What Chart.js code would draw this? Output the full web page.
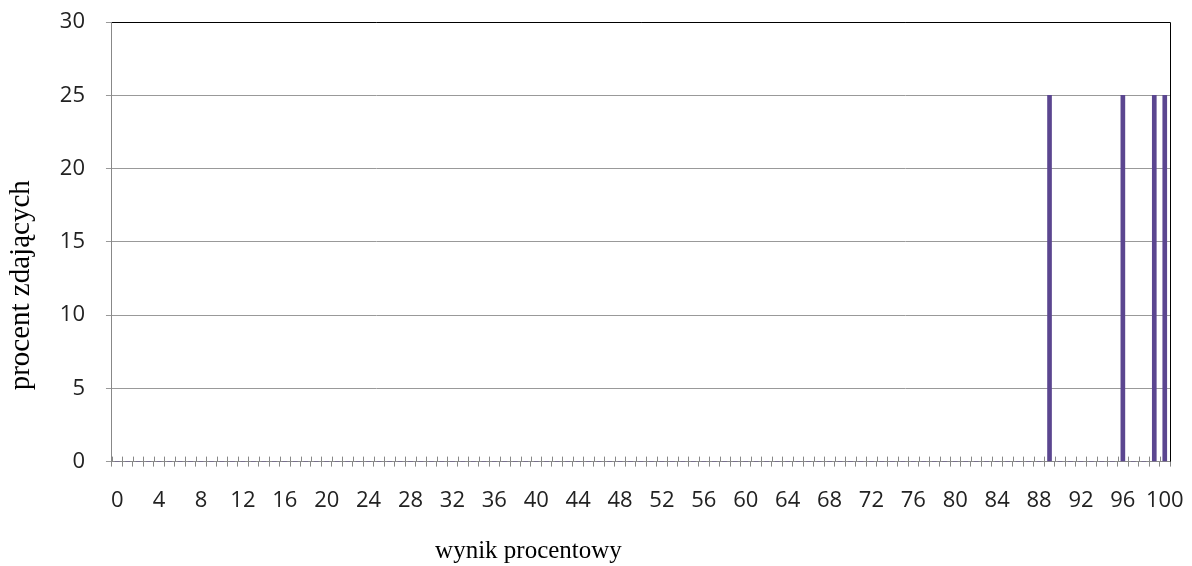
<!DOCTYPE html>
<html>
<head>
<meta charset="utf-8">
<script src="https://cdn.jsdelivr.net/npm/chart.js@4"></script>
<style>
  html, body { margin: 0; padding: 0; background: #fff; }
  #wrap { width: 1192px; height: 566px; }
</style>
</head>
<body>
<div id="wrap"><canvas id="wynikiChart"></canvas></div>
<script>
// kategorie: wynik procentowy 0..100
const wyniki = [
  0, 1, 2, 3, 4, 5, 6, 7, 8, 9, 10, 11, 12, 13, 14, 15, 16, 17, 18, 19,
  20, 21, 22, 23, 24, 25, 26, 27, 28, 29, 30, 31, 32, 33, 34, 35, 36, 37, 38, 39,
  40, 41, 42, 43, 44, 45, 46, 47, 48, 49, 50, 51, 52, 53, 54, 55, 56, 57, 58, 59,
  60, 61, 62, 63, 64, 65, 66, 67, 68, 69, 70, 71, 72, 73, 74, 75, 76, 77, 78, 79,
  80, 81, 82, 83, 84, 85, 86, 87, 88, 89, 90, 91, 92, 93, 94, 95, 96, 97, 98, 99, 100
];

// procent zdających dla każdego wyniku
const procentZdajacych = [
  0, 0, 0, 0, 0, 0, 0, 0, 0, 0, 0, 0, 0, 0, 0, 0, 0, 0, 0, 0,
  0, 0, 0, 0, 0, 0, 0, 0, 0, 0, 0, 0, 0, 0, 0, 0, 0, 0, 0, 0,
  0, 0, 0, 0, 0, 0, 0, 0, 0, 0, 0, 0, 0, 0, 0, 0, 0, 0, 0, 0,
  0, 0, 0, 0, 0, 0, 0, 0, 0, 0, 0, 0, 0, 0, 0, 0, 0, 0, 0, 0,
  0, 0, 0, 0, 0, 0, 0, 0, 0, 25, 0, 0, 0, 0, 0, 0, 25, 0, 0, 25, 25
];

const yTicks = [0, 5, 10, 15, 20, 25, 30];

// tytuły osi przesunięte jak w oryginale (spacje na końcu)
const tytulX = 'wynik procentowy' + '\u00a0'.repeat(36);
const tytulY = 'procent zdających' + '\u00a0'.repeat(12);

// ramka (góra, prawo) i krótkie kreski osi X przecinające oś
const ramkaPlugin = {
  id: 'ramka',
  afterDraw(chart) {
    const ctx = chart.ctx;
    const a = chart.chartArea;
    const xs = chart.scales.x;
    ctx.save();
    ctx.strokeStyle = '#888';
    ctx.lineWidth = 1;
    for (let i = 0; i <= wyniki.length; i++) {
      const px = Math.round(xs.getPixelForValue(i - 0.5)) + 0.5;
      ctx.beginPath();
      ctx.moveTo(px, a.bottom - 5);
      ctx.lineTo(px, a.bottom);
      ctx.stroke();
    }
    ctx.strokeStyle = '#000';
    ctx.beginPath();
    ctx.moveTo(a.left, a.top + 0.5);
    ctx.lineTo(a.right + 0.5, a.top + 0.5);
    ctx.lineTo(a.right + 0.5, a.bottom);
    ctx.stroke();
    ctx.restore();
  }
};

const ctx = document.getElementById('wynikiChart').getContext('2d');
new Chart(ctx, {
  type: 'bar',
  data: {
    labels: wyniki,
    datasets: [{
      label: 'procent zdających',
      data: procentZdajacych,
      backgroundColor: '#5b4690',
      borderWidth: 0,
      barThickness: 4
    }]
  },
  options: {
    responsive: true,
    maintainAspectRatio: false,
    animation: false,
    layout: { padding: { top: 22, right: 22, left: 4, bottom: 0 } },
    plugins: {
      legend: { display: false },
      tooltip: { enabled: false }
    },
    scales: {
      x: {
        offset: true,
        afterFit: function (scale) {
          scale.paddingLeft = 0;
          scale.paddingRight = 0;
        },
        grid: {
          offset: true,
          drawOnChartArea: false,
          drawTicks: true,
          tickLength: 5,
          color: '#888'
        },
        border: { color: '#888' },
        ticks: {
          autoSkip: false,
          maxRotation: 0,
          padding: 21,
          color: '#222',
          font: { family: 'Open Sans', size: 22 },
          callback: function (val, i) {
            return i % 4 === 0 ? wyniki[i] : '';
          }
        },
        title: {
          display: true,
          text: tytulX,
          color: '#000',
          font: { family: 'Liberation Serif', size: 25 },
          padding: { top: 1, bottom: 0 }
        }
      },
      y: {
        min: 0,
        max: 30,
        afterBuildTicks: function (scale) {
          scale.ticks = yTicks.map(v => ({ value: v }));
        },
        afterFit: function (scale) {
          scale.paddingTop = 0;
        },
        grid: {
          color: '#999',
          tickLength: 6
        },
        border: { color: '#888' },
        ticks: {
          padding: 21,
          color: '#222',
          font: { family: 'Open Sans', size: 22 }
        },
        title: {
          display: true,
          text: tytulY,
          color: '#000',
          font: { family: 'Liberation Serif', size: 29 },
          padding: { top: 0, bottom: 0 }
        }
      }
    }
  },
  plugins: [ramkaPlugin]
});
</script>
</body>
</html>
